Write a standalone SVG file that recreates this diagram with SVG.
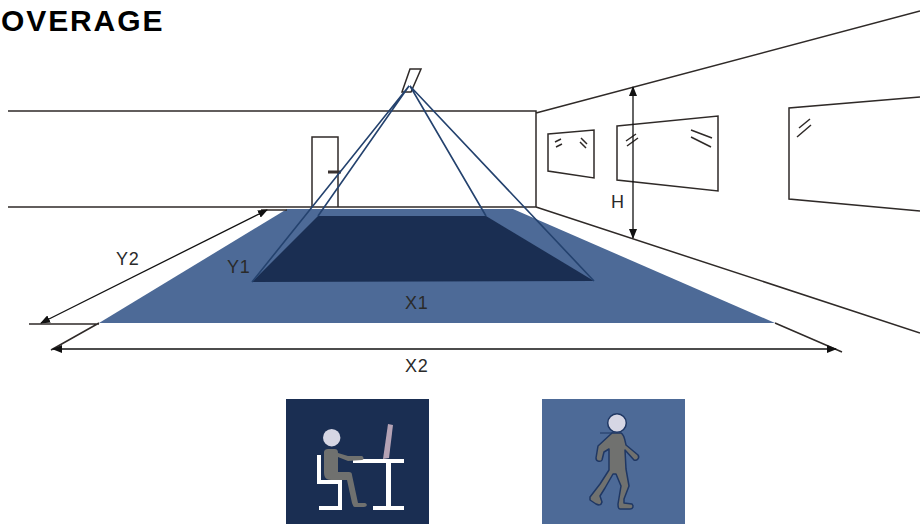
<svg xmlns="http://www.w3.org/2000/svg" width="920" height="524" viewBox="0 0 920 524">
<style>
.ln{fill:none;stroke:#2f2a28;stroke-width:1.500}
.dim{fill:none;stroke:#111;stroke-width:1.300}
.cone{fill:none;stroke:#24426e;stroke-width:1.600}
.lb{font-family:"Liberation Sans",Arial,sans-serif;font-size:18px;letter-spacing:.8px;fill:#2a2a2a}
</style>
<defs>
<marker id="a" markerWidth="10" markerHeight="8" refX="9" refY="4" orient="auto-start-reverse" markerUnits="userSpaceOnUse"><path d="M0 0L10 4L0 8Z" fill="#111"/></marker>
</defs>
<rect width="920" height="524" fill="#fff"/>
<text x="1" y="31" font-family="'Liberation Sans',Arial,sans-serif" font-weight="700" font-size="30" letter-spacing="1.900" fill="#000">OVERAGE</text>
<g id="room">
<path class="ln" d="M8 111H536V207H8M536 113L920 11M536 207L920 333"/>
</g>
<g id="door">
<path class="ln" d="M312 207V137H338V207"/>
<rect x="328" y="170.500" width="13" height="3" fill="#3a3230"/>
</g>
<g id="window1">
<path class="ln" d="M548 134L594 130V178L548 171Z"/>
<path class="ln" d="M555 142L561 139M556 147L562 144M581 138L587 144M580 142L586 148"/>
</g>
<g id="window2">
<path class="ln" d="M617 126L718 116V191L617 180Z"/>
<path class="ln" d="M626 141L636 134M627 146L638 138M691 130L712 138M691 137L711 147"/>
</g>
<g id="window3">
<path class="ln" d="M920 97L789 108V199L920 211"/>
<path class="ln" d="M799 128L810 119M797 137L811 125"/>
</g>
<g id="floor">
<path d="M287 209H513L775 323H99Z" fill="#4d6a97"/>
<path d="M318 216H486L594 281L252 282Z" fill="#1a2e52"/>
</g>
<g id="sensor">
<path class="ln" d="M410 69H421L411 92H402Z"/>
</g>
<g id="connectors">
<path class="cone" d="M409 86L252 282M409 86L318 216M410 86L486 216M410 86L594 281"/>
<path class="ln" d="M29 324H99M261 210H287M99 323L51 350M775 323L842 352"/>
<path class="dim" d="M633 87V238" marker-start="url(#a)" marker-end="url(#a)"/>
<path class="dim" d="M41 323L267 210" marker-start="url(#a)" marker-end="url(#a)"/>
<path class="dim" d="M53 349H836" marker-start="url(#a)" marker-end="url(#a)"/>
</g>
<g id="labels">
<text class="lb" x="116" y="265">Y2</text>
<text class="lb" x="227" y="273">Y1</text>
<text class="lb" x="405" y="309">X1</text>
<text class="lb" x="405" y="372">X2</text>
<text class="lb" x="611" y="208">H</text>
</g>
<g id="seated">
<rect x="286" y="399" width="143" height="125" fill="#1a2e52"/>
<path d="M317 455H321V480H342V510H319V506H338V484H317Z" fill="#fff"/>
<path d="M353 459H404V463H391V506H404V510H373V506H386V463H353Z" fill="#fff"/>
<path d="M388 424L393 425L389 458L383 459Z" fill="#b5a3b5"/>
<circle cx="331.700" cy="437.700" r="8.700" fill="#d6d6e4"/>
<path d="M328 449H335C338 449 338 452 338 453L348 456H362C364 457 364 460 362 460L348 461L338 457V472H349C351 472 352 473 352 475L358 503H365C368 504 367 507 364 507H355C353 507 353 505 352 503L347 480H331C325 480 324 476 324 472V452C324 450 326 449 328 449Z" fill="#70716f"/>
</g>
<g id="walking">
<rect x="542" y="399" width="143" height="125" fill="#4d6a97"/>
<path d="M600 433H613" fill="none" stroke="#1f3763" stroke-width="1"/>
<g fill="#70716f" stroke="#1f3763" stroke-width="1.500" stroke-linejoin="round">
<path d="M612 433H621C624 434 625 440 626 445L638 455C640 458 637 461 634 460L625 450L626 469L629 486L624 499V503L632 504C634 506 633 509 630 509H620C618 509 618 507 618 504L621 486L616 474H613L605 488L600 496L602 502C601 506 598 505 596 504L590 500L590 497L600 484L609 470V449L604 452L602 460C601 462 596 462 596 458L598 446Z"/>
</g>
<circle cx="617" cy="423" r="9.300" fill="#d6d6e4" stroke="#1f3763" stroke-width="1.500"/>
</g>
</svg>
